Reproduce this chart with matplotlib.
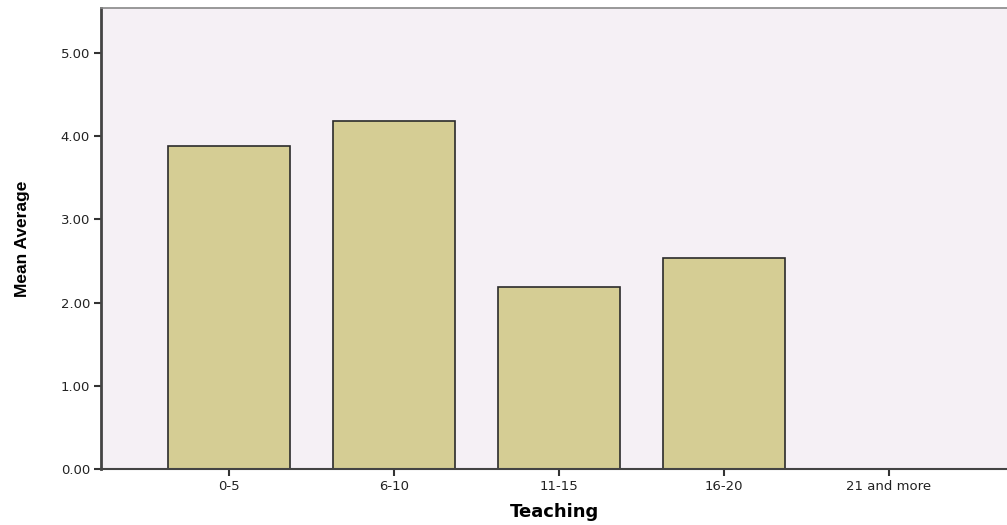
import matplotlib
matplotlib.use("Agg")
import matplotlib.pyplot as plt
import numpy as np

categories = ['0-5', '6-10', '11-15', '16-20', '21 and more']
meanAverage = [3.88, 4.18, 2.19, 2.54, 0.0]
yTicks = [0.0, 1.0, 2.0, 3.0, 4.0, 5.0]

plt.rcParams['font.family'] = ['DejaVu Sans']

fig = plt.figure(figsize=(10.07, 5.25), dpi=100)
ax = fig.add_axes([101 / 1007, 56 / 525, 906 / 1007, 461 / 525])
ax.set_facecolor('#f5f0f5')

x = np.arange(len(categories))
heights = np.array(meanAverage)
shown = heights > 0
ax.bar(x[shown], heights[shown], width=0.745, color='#d5cd94',
       edgecolor='#2b2b2b', linewidth=1.2, zorder=2)

ax.set_xlim(-0.776, 4.715)
ax.set_ylim(0, 5.54)
ax.set_xticks(x)
ax.set_xticklabels(categories, fontsize=9.5, color='#222222')
ax.set_yticks(yTicks)
ax.set_yticklabels(['%.2f' % v for v in yTicks], fontsize=9.5, color='#222222')
ax.tick_params(axis='y', direction='out', length=5, width=1.5, color='#333333', pad=3)
ax.tick_params(axis='x', direction='out', length=5, width=1.5, color='#333333', pad=3)

ax.spines['left'].set_linewidth(2)
ax.spines['left'].set_color('#444444')
ax.spines['bottom'].set_linewidth(1.5)
ax.spines['bottom'].set_color('#444444')
ax.spines['top'].set_linewidth(1.2)
ax.spines['top'].set_color('#888888')
ax.spines['right'].set_visible(False)

ax.set_xlabel('Teaching', fontsize=13, fontweight='bold', labelpad=7)
ax.set_ylabel('Mean Average', fontsize=12.5, fontweight='bold', labelpad=22,
              family=['Liberation Sans Narrow', 'Liberation Sans'])

fig.savefig('out.png', dpi=100)
